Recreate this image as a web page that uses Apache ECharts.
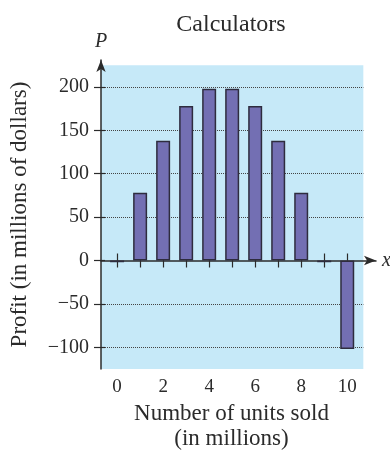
<!DOCTYPE html>
<html>
<head>
<meta charset="utf-8">
<script src="https://cdn.jsdelivr.net/npm/echarts@6/dist/echarts.min.js"></script>
<style>
    html, body { margin: 0; padding: 0; background: #fff; }
    #chart { width: 390px; height: 451px; }
</style>
</head>
<body>
<div id="chart"></div>
<script>
// Данные графика
const unitsSold = [0, 1, 2, 3, 4, 5, 6, 7, 8, 9, 10];
const profit = [-2, 78, 138, 178, 198, 198, 178, 138, 78, -2, -102];
const yTicks = [-100, -50, 0, 50, 100, 150, 200];
const yGridLines = [-100, -50, 50, 100, 150, 200];
const xLabelTicks = [0, 2, 4, 6, 8, 10];
const plotRangeX = [-0.7, 10.7];
const plotRangeY = [-125, 225];

const serif = '"Liberation Serif", "DejaVu Serif", serif';
const ink = '#2b2b2b';

// Размеры сетки и границы осей
const chartHeight = 451;
const gridTop = 60;
const gridBottom = 82;
const xMax = 11.25;
const yMax = 231;
// сдвиг горизонтальной оси к нулю по y
const zeroOffset = -(chartHeight - gridTop - gridBottom) * (0 - plotRangeY[0]) / (yMax - plotRangeY[0]);

const chart = echarts.init(document.getElementById('chart'));

const gridLineData = yGridLines.map(v => [
    { coord: [plotRangeX[0], v] },
    { coord: [plotRangeX[1], v] }
]);

const option = {
    backgroundColor: '#fff',
    animation: false,
    title: {
        text: 'Calculators',
        left: 226,
        textAlign: 'center',
        top: 8,
        textStyle: { fontFamily: serif, fontSize: 24, fontWeight: 'normal', color: ink }
    },
    grid: { left: 101, right: 14, top: gridTop, bottom: gridBottom, outerBoundsMode: 'none', containLabel: false },
    xAxis: [
        {
            // линия оси со стрелкой и нижними засечками
            type: 'value', min: plotRangeX[0], max: xMax, z: 1.5, position: 'bottom', offset: zeroOffset,
            axisLine: { onZero: false, symbol: ['none', 'arrow'], symbolSize: [7, 12], lineStyle: { color: ink, width: 1.5 } },
            axisTick: { show: true, length: 7, customValues: unitsSold, lineStyle: { color: ink, width: 1.2 } },
            axisLabel: { show: true, customValues: unitsSold, color: 'rgba(0,0,0,0)', fontSize: 1 },
            splitLine: { show: false },
            name: 'x', nameLocation: 'end', nameGap: 6,
            nameTextStyle: { fontFamily: serif, fontSize: 20, fontStyle: 'italic', color: ink }
        },
        {
            // верхние засечки
            type: 'value', min: plotRangeX[0], max: xMax, z: 1.5, position: 'bottom', offset: zeroOffset,
            axisLine: { show: false, onZero: false },
            axisTick: { show: true, inside: true, length: 7, customValues: unitsSold, lineStyle: { color: ink, width: 1.2 } },
            axisLabel: { show: true, customValues: unitsSold, color: 'rgba(0,0,0,0)', fontSize: 1 },
            splitLine: { show: false }
        },
        {
            // подписи снизу
            type: 'value', min: plotRangeX[0], max: xMax, position: 'bottom',
            axisLine: { show: false, onZero: false },
            axisTick: { show: false },
            axisLabel: { customValues: xLabelTicks, margin: 9, fontFamily: serif, fontSize: 19, color: ink },
            splitLine: { show: false },
            name: 'Number of units sold\n(in millions)', nameLocation: 'middle', nameGap: 30,
            nameTextStyle: { fontFamily: serif, fontSize: 23, lineHeight: 25, color: ink, padding: [0, 14, 0, 0] }
        }
    ],
    yAxis: [
        {
            type: 'value', min: plotRangeY[0], max: yMax, z: 1.5, position: 'left',
            axisLine: { show: true, onZero: false, symbol: ['none', 'arrow'], symbolSize: [7, 12], lineStyle: { color: ink, width: 1.5 } },
            axisTick: { show: true, length: 7, customValues: yTicks, lineStyle: { color: ink, width: 1.2 } },
            axisLabel: { customValues: yTicks, margin: 12, fontFamily: serif, fontSize: 20, color: ink,
                formatter: v => (v < 0 ? '\u2212' + Math.abs(v) : String(v)) },
            splitLine: { show: false },
            name: 'P', nameLocation: 'end', nameGap: 8,
            nameTextStyle: { fontFamily: serif, fontSize: 20, fontStyle: 'italic', color: ink, align: 'center' }
        },
        {
            type: 'value', min: plotRangeY[0], max: yMax, z: 1.5, position: 'left', offset: 0,
            axisLine: { show: false, onZero: false },
            axisTick: { show: true, inside: true, length: 4, customValues: yTicks, lineStyle: { color: ink, width: 1.2 } },
            axisLabel: { show: true, customValues: yTicks, color: 'rgba(0,0,0,0)', fontSize: 1 },
            splitLine: { show: false },
            name: 'Profit (in millions of dollars)', nameLocation: 'middle', nameGap: 70,
            nameTextStyle: { fontFamily: serif, fontSize: 23, color: ink }
        }
    ],
    series: [{
        type: 'bar',
        xAxisIndex: 0,
        yAxisIndex: 0,
        barWidth: 14,
        data: unitsSold.map((x, i) => [x, profit[i]]),
        itemStyle: { color: '#736fb3', borderColor: '#2e2c3e', borderWidth: 1.5 },
        markArea: {
            silent: true,
            z: 1,
            itemStyle: { color: '#c6e9f8' },
            data: [[
                { coord: [plotRangeX[0], plotRangeY[0]] },
                { coord: [plotRangeX[1], plotRangeY[1]] }
            ]]
        },
        markLine: {
            silent: true,
            z: 1.2,
            symbol: 'none',
            label: { show: false },
            lineStyle: { color: '#444', type: 'dotted', width: 1 },
            data: gridLineData
        }
    }]
};

chart.setOption(option);
</script>
</body>
</html>
